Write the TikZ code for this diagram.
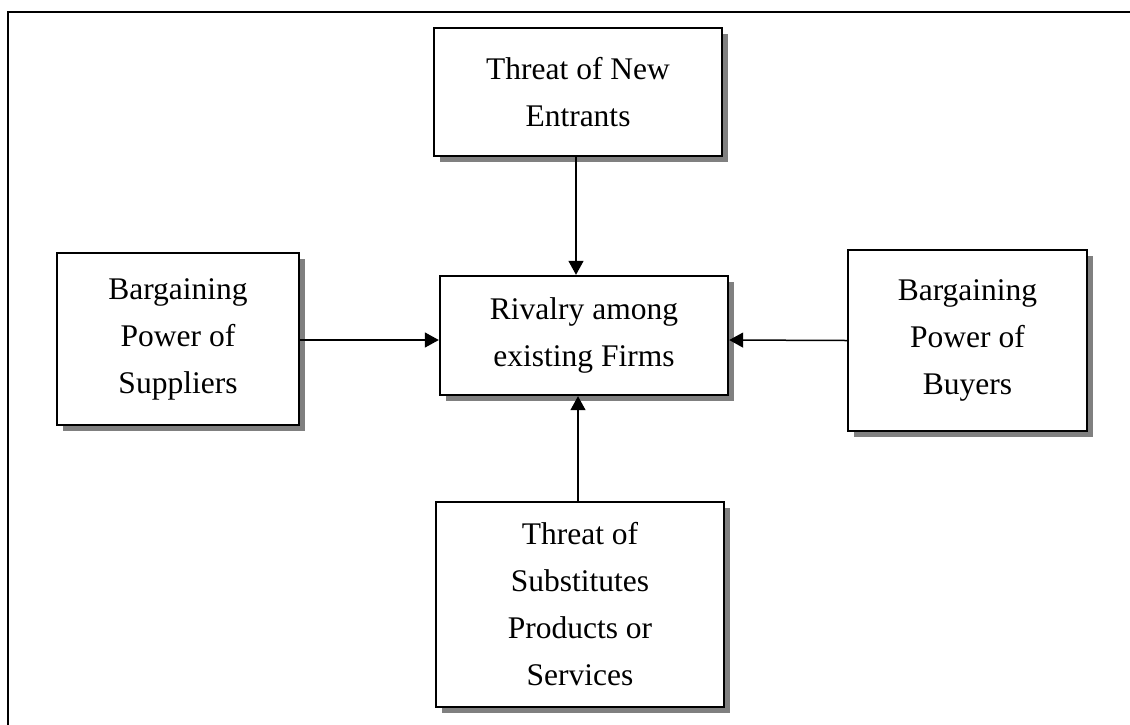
\documentclass[tikz,border=0pt]{standalone}
\usepackage{fontspec}
\setmainfont{Liberation Serif}
\usetikzlibrary{shadows,arrows.meta}
\begin{document}
\begin{tikzpicture}[x=1pt,y=-1pt,
  force/.style={draw=black, line width=2.4pt, fill=white, align=center, inner sep=0pt,
    font=\fontsize{31.5}{47}\selectfont,
    drop shadow={shadow xshift=6pt, shadow yshift=-6pt, fill=black!50, opacity=1}},
  link/.style={line width=1.5pt, -{Triangle[length=14pt,width=15pt]}}]
  \useasboundingbox (0,0) rectangle (1130,724);
  % page frame, running past the right and bottom edges
  \begin{scope}
    \clip (0,0) rectangle (1130,724);
    \draw[line width=2pt] (7.5,11.5) rectangle (1150,750);
  \end{scope}
  % the five forces
  \node[force, minimum width=288pt, minimum height=128pt] (entrants) at (578,92)
    {Threat of New\\Entrants};
  \node[force, minimum width=288pt, minimum height=119pt] (rivalry) at (584,335.5)
    {Rivalry among\\existing Firms};
  \node[force, minimum width=242pt, minimum height=172pt] (suppliers) at (178,339)
    {Bargaining\\Power of\\Suppliers};
  \node[force, minimum width=239pt, minimum height=181pt] (buyers) at (967.5,340.5)
    {Bargaining\\Power of\\Buyers};
  \node[force, minimum width=288pt, minimum height=205pt] (substitutes) at (580,604.5)
    {Threat of\\Substitutes\\Products or\\Services};
  % influences on rivalry
  \draw[link] ([xshift=-2pt]entrants.south) -- ([xshift=-8pt]rivalry.north);
  \draw[link] ([yshift=-1pt]suppliers.east) -- ([yshift=-4.5pt]rivalry.west);
  \draw[link] (buyers.west) -- ([yshift=-4.5pt]rivalry.east);
  \draw[link] ([xshift=-2pt]substitutes.north) -- ([xshift=-6pt]rivalry.south);
\end{tikzpicture}
\end{document}
